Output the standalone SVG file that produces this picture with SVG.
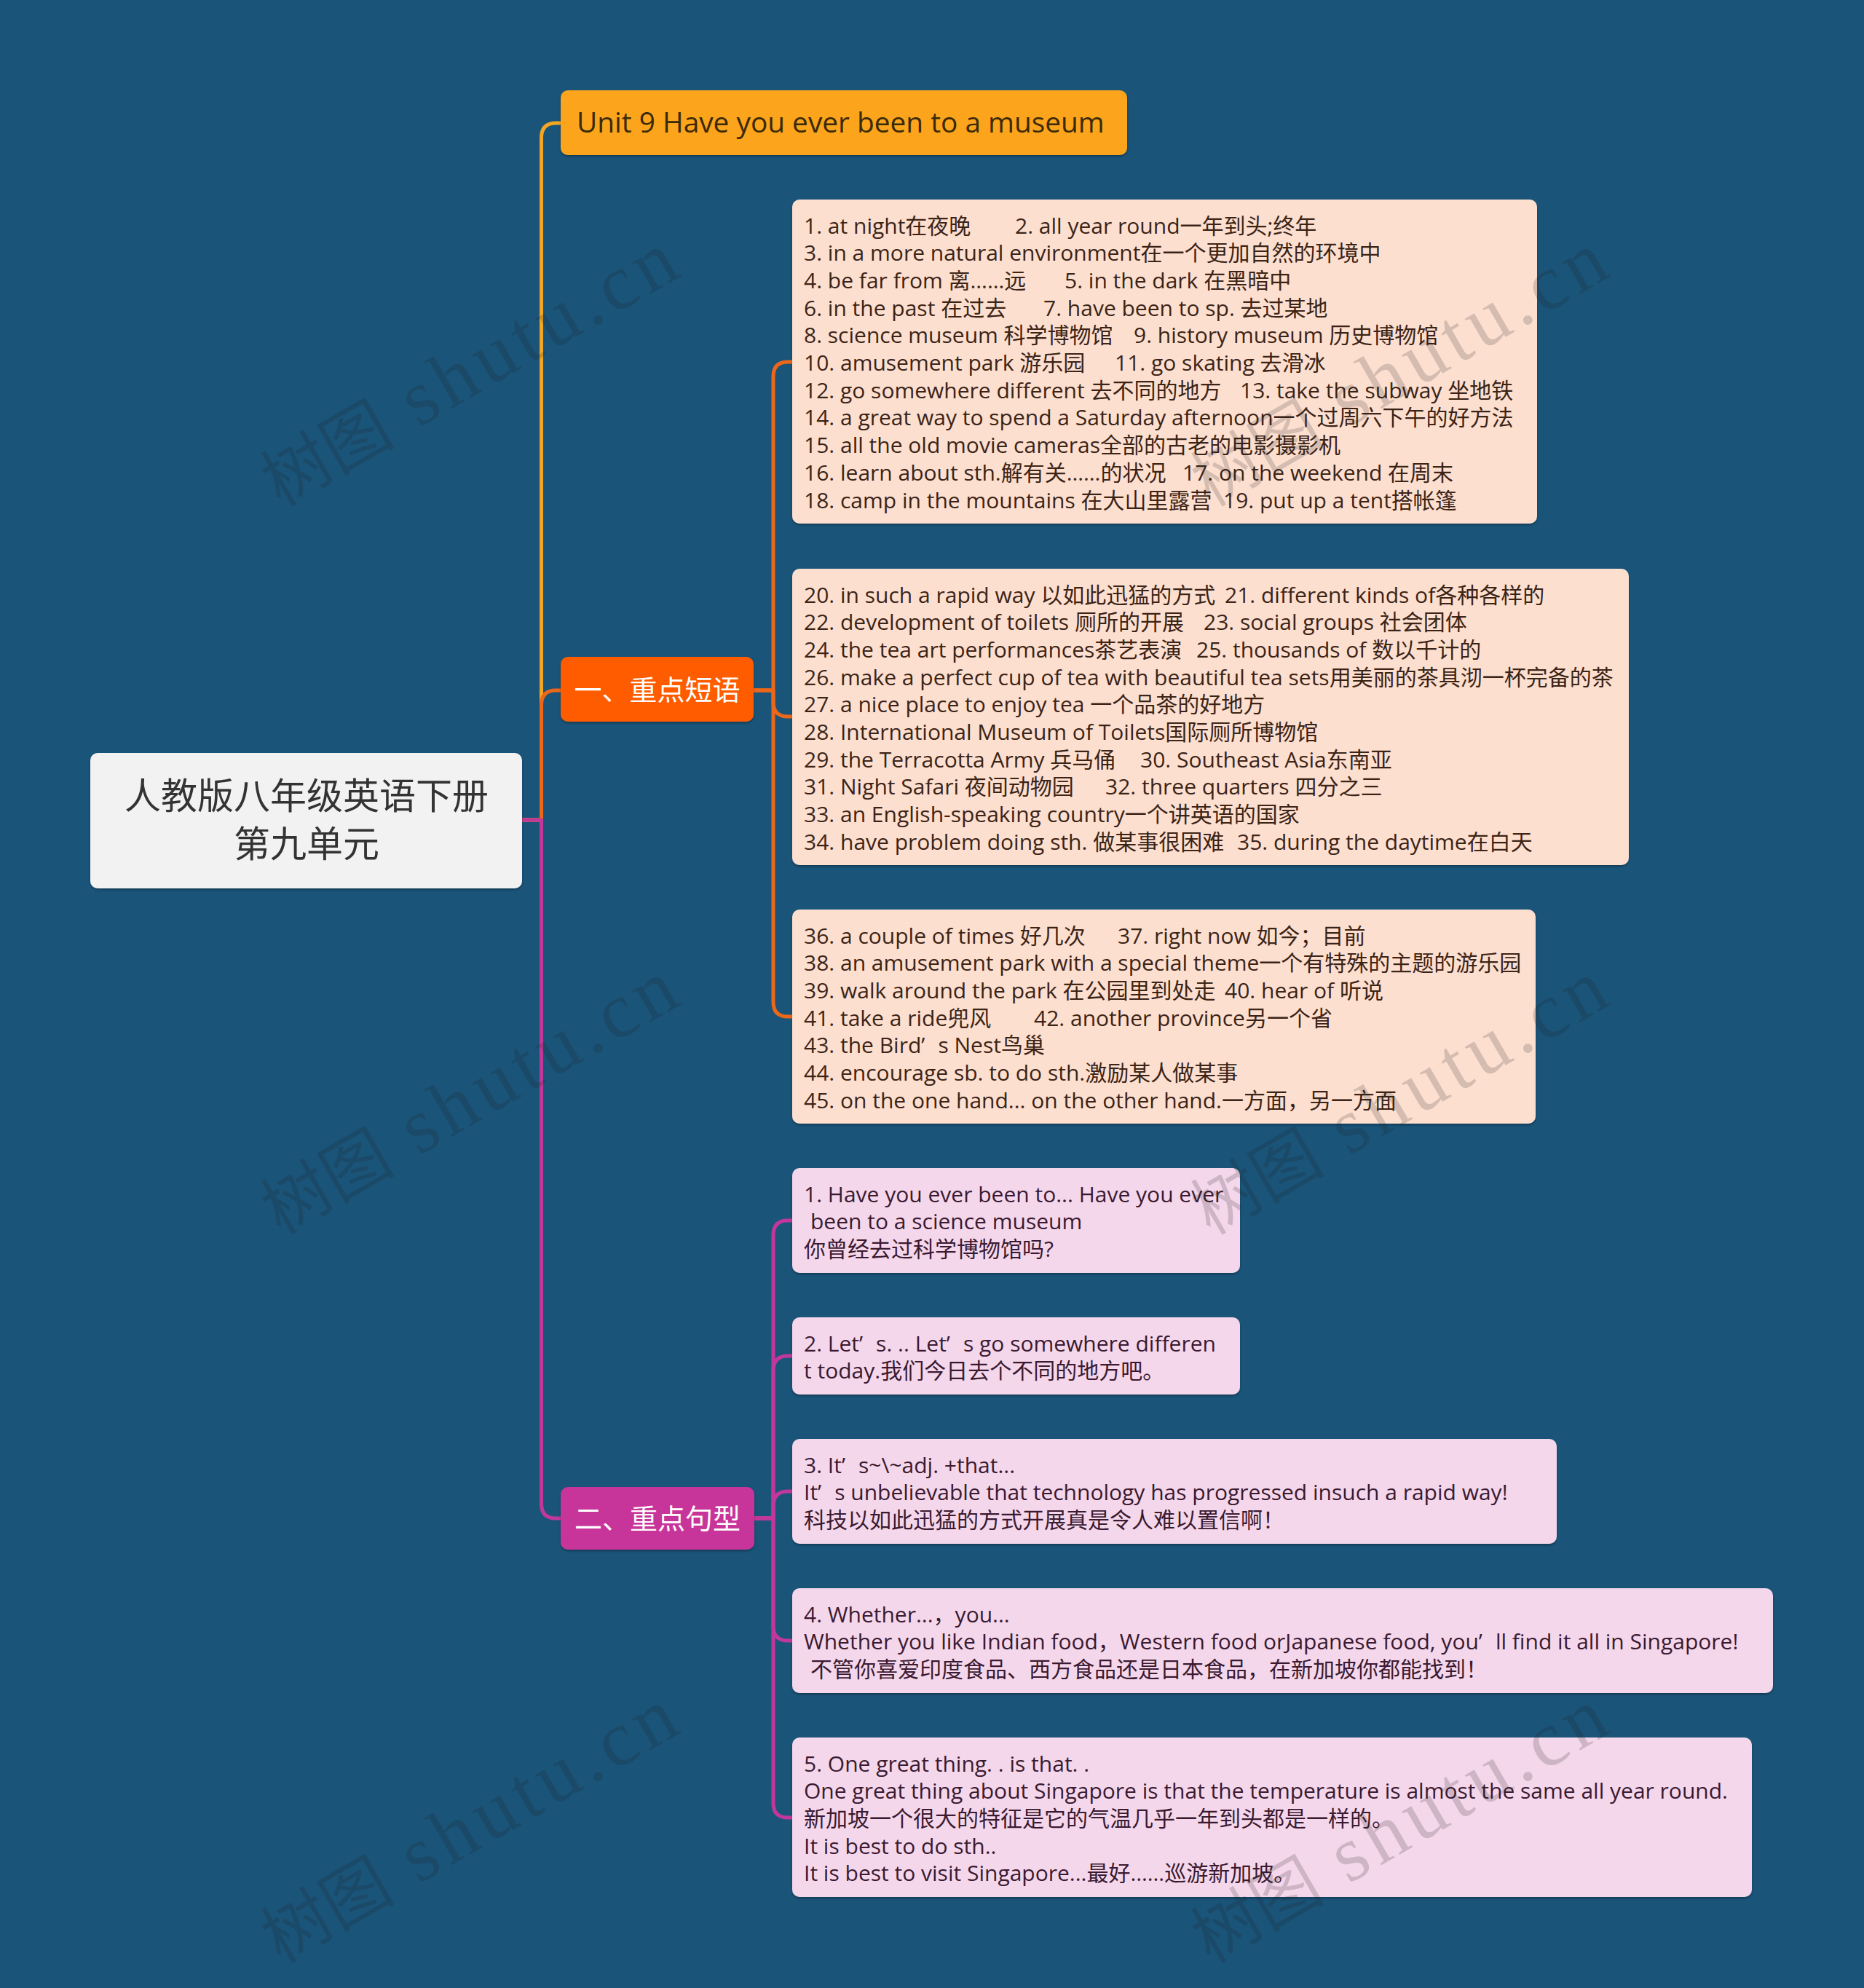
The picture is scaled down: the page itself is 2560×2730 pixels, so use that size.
<svg xmlns="http://www.w3.org/2000/svg" width="2560" height="2730" viewBox="0 0 2560 2730" xml:space="preserve">
<defs>
<filter id="sh" x="-5%" y="-5%" width="110%" height="120%"><feDropShadow dx="0" dy="2" stdDeviation="1.5" flood-color="#000" flood-opacity="0.3"/></filter>
<style>
.t{font-family:"Open Sans","Noto Sans CJK SC",sans-serif;font-size:30px}
.p{fill:#3b2416}
.q{fill:#3a1a30}
.lp{fill:#FDDFD0}
.lq{fill:#F5D7EC}
.ln{fill:none;stroke-width:5;stroke-linecap:round;stroke-linejoin:round}
.wm{font-family:"Liberation Serif","Noto Sans CJK SC",serif;font-size:108px;fill:#222;opacity:0.18}
</style>
</defs>
<rect width="2560" height="2730" fill="#1a5479"/>
<g id="connectors">
<path class="ln" stroke="#F2A623" d="M717 1126 H743.5 V189 Q743.5 169 763.5 169 H770"/>
<path class="ln" stroke="#EC6719" d="M717 1126 H743.5 V968 Q743.5 948 763.5 948 H770"/>
<path class="ln" stroke="#C2389A" d="M717 1126 H743.5 V2065 Q743.5 2085 763.5 2085 H770"/>
<path class="ln" stroke="#EC6719" d="M1035 948 H1062 V517 Q1062 497 1082 497 H1088"/>
<path class="ln" stroke="#EC6719" d="M1035 948 H1062 V964 Q1062 984 1082 984 H1088"/>
<path class="ln" stroke="#EC6719" d="M1035 948 H1062 V1376 Q1062 1396 1082 1396 H1088"/>
<path class="ln" stroke="#C2389A" d="M1036 2085 H1062 V1696 Q1062 1676 1082 1676 H1088"/>
<path class="ln" stroke="#C2389A" d="M1036 2085 H1062 V1882 Q1062 1862 1082 1862 H1088"/>
<path class="ln" stroke="#C2389A" d="M1036 2085 H1062 V2068 Q1062 2048 1082 2048 H1088"/>
<path class="ln" stroke="#C2389A" d="M1036 2085 H1062 V2233 Q1062 2253 1082 2253 H1088"/>
<path class="ln" stroke="#C2389A" d="M1036 2085 H1062 V2476 Q1062 2496 1082 2496 H1088"/>
</g>
<g id="root">
<rect x="124" y="1034" width="593" height="186" rx="10" fill="#F2F2F2" filter="url(#sh)"/>
<text x="421" y="1111" text-anchor="middle" font-family="Noto Sans CJK SC, sans-serif" font-size="50" fill="#333">人教版八年级英语下册</text>
<text x="421" y="1177" text-anchor="middle" font-family="Noto Sans CJK SC, sans-serif" font-size="50" fill="#333">第九单元</text>
</g>
<g id="unit9">
<rect x="770" y="124" width="778" height="89" rx="10" fill="#FBA41F" filter="url(#sh)"/>
<text x="792" y="182" font-family="Open Sans, sans-serif" font-size="38.8" fill="#3a2a08">Unit 9 Have you ever been to a museum</text>
</g>
<g id="sec1">
<rect x="770" y="902" width="265" height="89" rx="10" fill="#FF5B05" filter="url(#sh)"/>
<text x="902.5" y="961" text-anchor="middle" font-family="Noto Sans CJK SC, sans-serif" font-size="38" fill="#fff">一、重点短语</text>
</g>
<g id="sec2">
<rect x="770" y="2042" width="266" height="86" rx="10" fill="#C8359A" filter="url(#sh)"/>
<text x="903" y="2099" text-anchor="middle" font-family="Noto Sans CJK SC, sans-serif" font-size="38" fill="#fff">二、重点句型</text>
</g>
<g id="leaf1">
<rect class="lp" x="1088" y="274" width="1023" height="445" rx="10" filter="url(#sh)"/>
<text class="t p" x="1104" y="320.5">1. at night在夜晚 <tspan x="1394">2. all year round一年到头;终年</tspan></text>
<text class="t p" x="1104" y="358.2">3. in a more natural environment在一个更加自然的环境中</text>
<text class="t p" x="1104" y="395.9">4. be far from 离……远 <tspan x="1462">5. in the dark 在黑暗中</tspan></text>
<text class="t p" x="1104" y="433.6">6. in the past 在过去 <tspan x="1433">7. have been to sp.  去过某地</tspan></text>
<text class="t p" x="1104" y="471.3">8. science museum 科学博物馆 <tspan x="1557">9. history museum 历史博物馆</tspan></text>
<text class="t p" x="1104" y="509">10. amusement park  游乐园 <tspan x="1531">11. go skating  去滑冰</tspan></text>
<text class="t p" x="1104" y="546.7">12. go somewhere different  去不同的地方 <tspan x="1703">13. take the subway  坐地铁</tspan></text>
<text class="t p" x="1104" y="584.4">14. a great way to spend a Saturday afternoon一个过周六下午的好方法</text>
<text class="t p" x="1104" y="622.1">15. all the old movie cameras全部的古老的电影摄影机</text>
<text class="t p" x="1104" y="659.8">16. learn about sth.解有关……的状况 <tspan x="1624">17. on the weekend 在周末</tspan></text>
<text class="t p" x="1104" y="697.5">18. camp in the mountains 在大山里露营 <tspan x="1680">19. put up a tent搭帐篷</tspan></text>
</g>
<g id="leaf2">
<rect class="lp" x="1088" y="781" width="1149" height="407" rx="10" filter="url(#sh)"/>
<text class="t p" x="1104" y="827.5">20. in such a rapid way 以如此迅猛的方式 <tspan x="1682">21. different kinds of各种各样的</tspan></text>
<text class="t p" x="1104" y="865.2">22. development of toilets 厕所的开展 <tspan x="1653">23. social groups 社会团体</tspan></text>
<text class="t p" x="1104" y="902.9">24. the tea art performances茶艺表演 <tspan x="1643">25. thousands of  数以千计的</tspan></text>
<text class="t p" x="1104" y="940.6">26. make a perfect cup of tea with beautiful tea sets用美丽的茶具沏一杯完备的茶</text>
<text class="t p" x="1104" y="978.3">27. a nice place to enjoy tea  一个品茶的好地方</text>
<text class="t p" x="1104" y="1016">28. International Museum of Toilets国际厕所博物馆</text>
<text class="t p" x="1104" y="1053.7">29. the Terracotta Army 兵马俑 <tspan x="1566">30. Southeast Asia东南亚</tspan></text>
<text class="t p" x="1104" y="1091.4">31. Night Safari 夜间动物园 <tspan x="1518">32. three quarters 四分之三</tspan></text>
<text class="t p" x="1104" y="1129.1">33. an English-speaking country一个讲英语的国家</text>
<text class="t p" x="1104" y="1166.8">34. have problem doing sth. 做某事很困难 <tspan x="1699">35. during the daytime在白天</tspan></text>
</g>
<g id="leaf3">
<rect class="lp" x="1088" y="1249" width="1021" height="294" rx="10" filter="url(#sh)"/>
<text class="t p" x="1104" y="1295.5">36. a couple of times  好几次 <tspan x="1535">37. right now  如今；目前</tspan></text>
<text class="t p" x="1104" y="1333.2">38. an amusement park with a special theme一个有特殊的主题的游乐园</text>
<text class="t p" x="1104" y="1370.9">39. walk around the park 在公园里到处走 <tspan x="1682">40. hear of 听说</tspan></text>
<text class="t p" x="1104" y="1408.6">41. take a ride兜风 <tspan x="1420">42. another province另一个省</tspan></text>
<text class="t p" x="1104" y="1446.3">43. the Bird’<tspan dx="18">s Nest鸟巢</tspan></text>
<text class="t p" x="1104" y="1484">44. encourage sb. to do sth.激励某人做某事</text>
<text class="t p" x="1104" y="1521.7">45. on the one hand... on the other hand.一方面，另一方面</text>
</g>
<g id="s2leaf1">
<rect class="lq" x="1088" y="1604" width="615" height="144" rx="10" filter="url(#sh)"/>
<text class="t q" x="1104" y="1650.5">1. Have you ever been to... Have you ever</text>
<text class="t q" x="1113" y="1688.2">been to a science museum</text>
<text class="t q" x="1104" y="1725.9">你曾经去过科学博物馆吗?</text>
</g>
<g id="s2leaf2">
<rect class="lq" x="1088" y="1809" width="615" height="106" rx="10" filter="url(#sh)"/>
<text class="t q" x="1104" y="1855.5">2. Let’<tspan dx="18">s. ..  Let’</tspan><tspan dx="18">s go somewhere differen</tspan></text>
<text class="t q" x="1104" y="1893.2">t today.我们今日去个不同的地方吧。</text>
</g>
<g id="s2leaf3">
<rect class="lq" x="1088" y="1976" width="1050" height="144" rx="10" filter="url(#sh)"/>
<text class="t q" x="1104" y="2022.5">3. It’<tspan dx="18">s~\~adj. +that...</tspan></text>
<text class="t q" x="1104" y="2060.2">It’<tspan dx="18">s unbelievable that technology has progressed insuch a rapid way!</tspan></text>
<text class="t q" x="1104" y="2097.9">科技以如此迅猛的方式开展真是令人难以置信啊！</text>
</g>
<g id="s2leaf4">
<rect class="lq" x="1088" y="2181" width="1347" height="144" rx="10" filter="url(#sh)"/>
<text class="t q" x="1104" y="2227.5">4. Whether...，you...</text>
<text class="t q" x="1104" y="2265.2">Whether you like Indian food，Western food orJapanese food, you’<tspan dx="18">ll find it all in Singapore!</tspan></text>
<text class="t q" x="1113" y="2302.9">不管你喜爱印度食品、西方食品还是日本食品，在新加坡你都能找到！</text>
</g>
<g id="s2leaf5">
<rect class="lq" x="1088" y="2386" width="1318" height="219" rx="10" filter="url(#sh)"/>
<text class="t q" x="1104" y="2432.5">5. One great thing.  . is that.  .</text>
<text class="t q" x="1104" y="2470.2">One great thing about Singapore is that the temperature is almost the same all year round.</text>
<text class="t q" x="1104" y="2507.9">新加坡一个很大的特征是它的气温几乎一年到头都是一样的。</text>
<text class="t q" x="1104" y="2545.6">It is best to do sth..</text>
<text class="t q" x="1104" y="2583.3">It is best to visit Singapore...最好……巡游新加坡。</text>
</g>
<g id="watermarks">
<text class="wm" transform="translate(385 697) rotate(-30)"><tspan font-family="Noto Sans CJK SC, sans-serif" font-size="92">树图</tspan><tspan letter-spacing="8"> shutu.cn</tspan></text>
<text class="wm" transform="translate(385 1697) rotate(-30)"><tspan font-family="Noto Sans CJK SC, sans-serif" font-size="92">树图</tspan><tspan letter-spacing="8"> shutu.cn</tspan></text>
<text class="wm" transform="translate(385 2697) rotate(-30)"><tspan font-family="Noto Sans CJK SC, sans-serif" font-size="92">树图</tspan><tspan letter-spacing="8"> shutu.cn</tspan></text>
<text class="wm" transform="translate(1662 697) rotate(-30)"><tspan font-family="Noto Sans CJK SC, sans-serif" font-size="92">树图</tspan><tspan letter-spacing="8"> shutu.cn</tspan></text>
<text class="wm" transform="translate(1662 1697) rotate(-30)"><tspan font-family="Noto Sans CJK SC, sans-serif" font-size="92">树图</tspan><tspan letter-spacing="8"> shutu.cn</tspan></text>
<text class="wm" transform="translate(1662 2697) rotate(-30)"><tspan font-family="Noto Sans CJK SC, sans-serif" font-size="92">树图</tspan><tspan letter-spacing="8"> shutu.cn</tspan></text>
</g>
</svg>
